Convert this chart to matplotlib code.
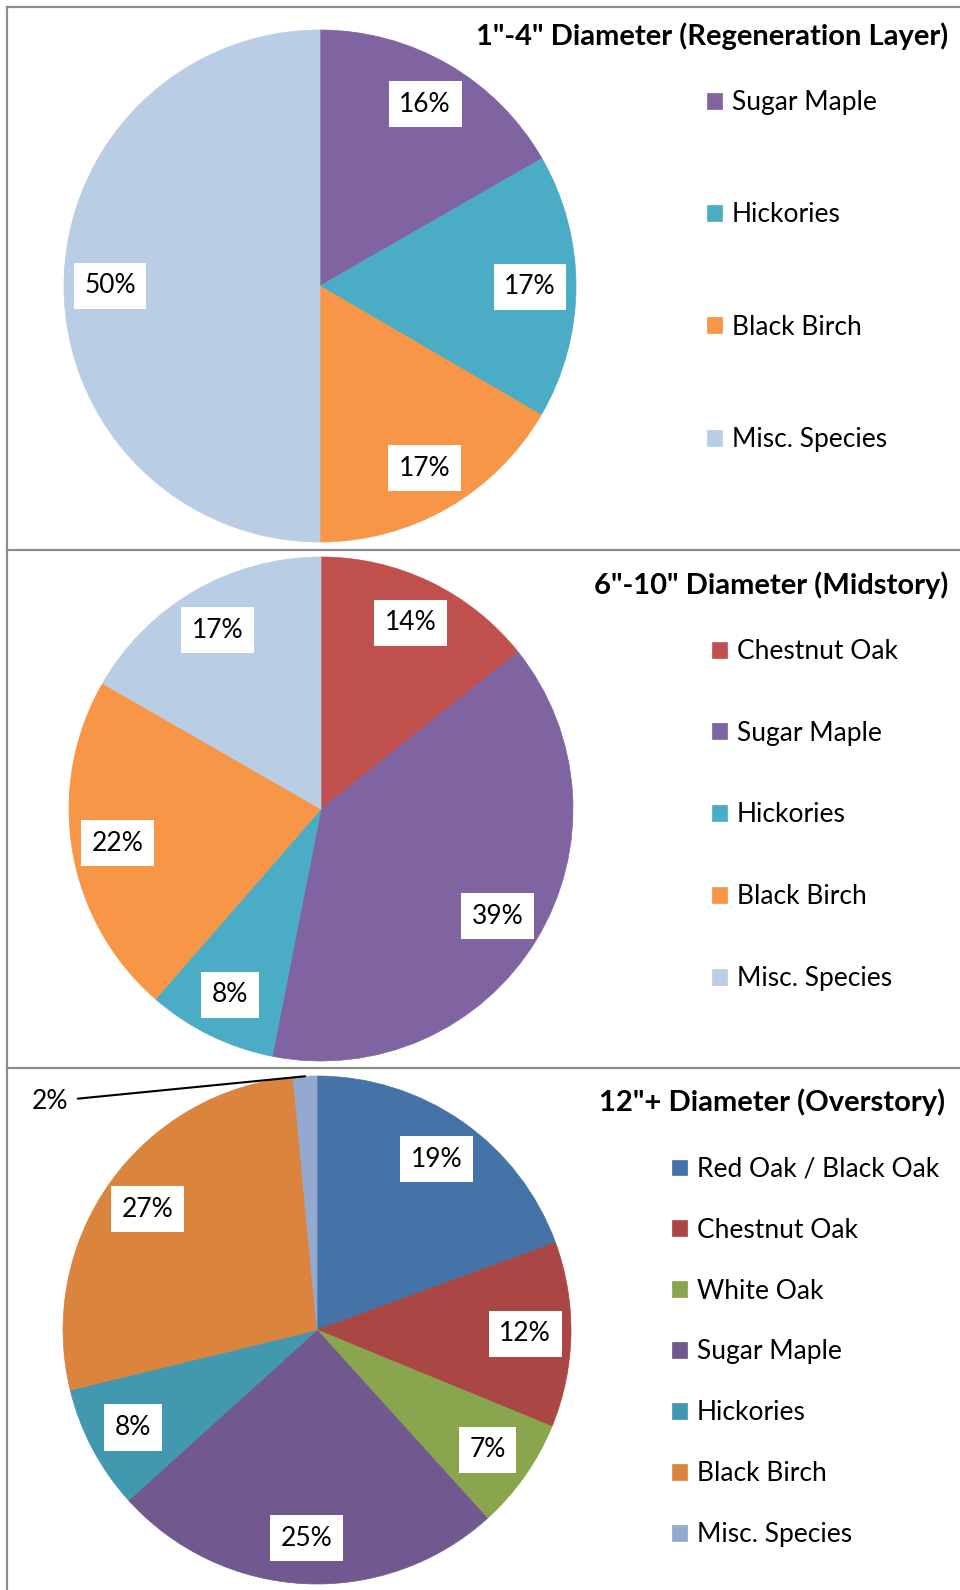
import numpy as np
import matplotlib.pyplot as plt
from matplotlib.lines import Line2D

plt.rcParams['font.family'] = ['Lato', 'DejaVu Sans']

W, H = 960, 1590

# 1"-4" diameter (regeneration layer)
regen_names = ['Sugar Maple', 'Hickories', 'Black Birch', 'Misc. Species']
regen_vals = [16.7, 16.7, 16.6, 50.0]
regen_labels = ['16%', '17%', '17%', '50%']
regen_colors = ['#8064A2', '#4BACC6', '#F79646', '#B9CDE5']

# 6"-10" diameter (midstory)
mid_names = ['Chestnut Oak', 'Sugar Maple', 'Hickories', 'Black Birch', 'Misc. Species']
mid_vals = [14.3, 38.8, 8.3, 21.9, 16.7]
mid_labels = ['14%', '39%', '8%', '22%', '17%']
mid_colors = ['#C0504D', '#8064A2', '#4BACC6', '#F79646', '#B9CDE5']

# 12"+ diameter (overstory)
over_names = ['Red Oak / Black Oak', 'Chestnut Oak', 'White Oak', 'Sugar Maple',
              'Hickories', 'Black Birch', 'Misc. Species']
over_vals = [19.4, 11.8, 7.1, 25.0, 7.9, 27.3, 1.5]
over_labels = ['19%', '12%', '7%', '25%', '8%', '27%', '2%']
over_colors = ['#4572A7', '#AA4643', '#89A54E', '#71588F', '#4198AF', '#DB843D', '#93A9CF']

fig = plt.figure(figsize=(W / 100, H / 100), dpi=100)
FS = 19


def pie_panel(cx, cy, r, vals, labels, colors, names, title, title_x, title_y,
              leg_x, leg_y, spacing, outside=None):
    m = 1.25
    ax = fig.add_axes([(cx - m * r) / W, 1 - (cy + m * r) / H, 2 * m * r / W, 2 * m * r / H])
    wedges, _ = ax.pie(vals, colors=colors, startangle=90, counterclock=False, radius=1)
    for w in wedges:
        w.set_edgecolor(w.get_facecolor())
        w.set_linewidth(0.5)
    ax.set_xlim(-m, m)
    ax.set_ylim(-m, m)
    ax.axis('off')
    for i, (w, lab) in enumerate(zip(wedges, labels)):
        ang = np.deg2rad((w.theta1 + w.theta2) / 2)
        if outside is not None and i == outside[0]:
            ax.annotate(lab, xy=(np.cos(ang), np.sin(ang)), xytext=outside[1],
                        ha='right', va='center', fontsize=FS,
                        arrowprops=dict(arrowstyle='-', color='black', lw=1.5,
                                        shrinkA=5, shrinkB=0))
            continue
        ax.text(0.82 * np.cos(ang), 0.82 * np.sin(ang), lab, ha='center', va='center',
                fontsize=FS, bbox=dict(boxstyle='square,pad=0.4', fc='white', ec='none'))
    fig.text(title_x / W, 1 - title_y / H, title, ha='right', va='center',
             fontsize=21, fontweight='bold')
    fig.legend(wedges, names, loc='center left', bbox_to_anchor=(leg_x / W, 1 - leg_y / H),
               frameon=False, fontsize=FS, labelspacing=spacing, handlelength=0.55,
               handleheight=0.55, handletextpad=0.4, borderpad=0, borderaxespad=0)


pie_panel(320, 286, 256, regen_vals, regen_labels, regen_colors, regen_names,
          '1"-4" Diameter (Regeneration Layer)', 948, 36, 707, 271, 3.31)
pie_panel(321, 809, 252, mid_vals, mid_labels, mid_colors, mid_names,
          '6"-10" Diameter (Midstory)', 948, 585, 712, 815, 2.15)
pie_panel(317, 1330, 254, over_vals, over_labels, over_colors, over_names,
          '12"+ Diameter (Overstory)', 945, 1102, 672, 1352, 1.36,
          outside=(6, (-0.98, 0.9)))

# panel borders
gray = '#8c8c8c'
for y in [7, 550, 1068]:
    fig.add_artist(Line2D([7 / W, 1], [1 - y / H, 1 - y / H], color=gray, lw=1.6))
fig.add_artist(Line2D([7 / W, 7 / W], [1 - 7 / H, 0], color=gray, lw=1.6))

fig.savefig('out.png', dpi=100)
